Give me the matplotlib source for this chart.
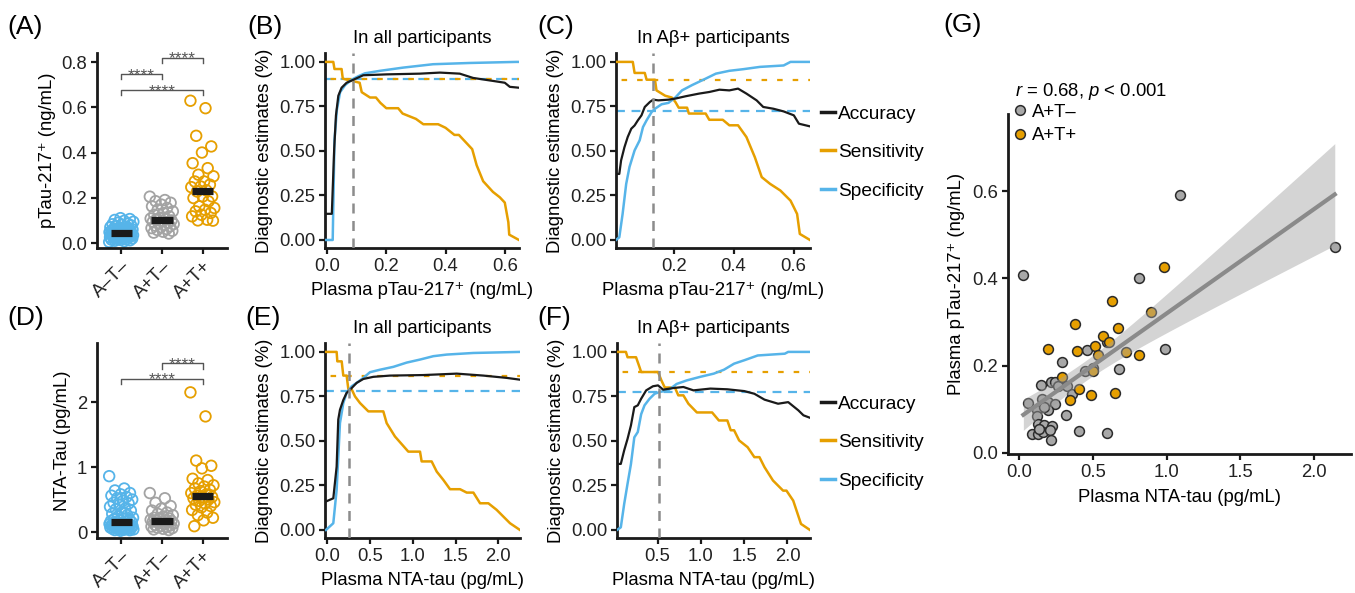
import matplotlib

matplotlib.use("Agg")
import matplotlib.pyplot as plt
import numpy as np
from matplotlib.lines import Line2D

plt.rcParams["font.family"] = ["Liberation Sans", "DejaVu Sans"]
plt.rcParams["mathtext.fontset"] = "custom"
plt.rcParams["mathtext.rm"] = "Liberation Sans"
plt.rcParams["mathtext.it"] = "Liberation Sans:italic"

BLUE = "#56B4E9"
ORANGE = "#E69F00"
GRAY = "#a3a3a3"
INK = "#1a1a1a"
FS = 13.3

GROUPS = ["A\u2013T\u2013", "A+T\u2013", "A+T+"]

# (A) plasma pTau-217+ by group (ng/mL)
ptau_neg = [0.005, 0.008, 0.01, 0.012, 0.014, 0.015, 0.017, 0.018, 0.02, 0.021, 0.022, 0.024, 0.025, 0.026,
            0.027, 0.028, 0.03, 0.031, 0.032, 0.033, 0.034, 0.035, 0.036, 0.037, 0.038, 0.039, 0.04, 0.041,
            0.042, 0.043, 0.044, 0.045, 0.046, 0.047, 0.048, 0.05, 0.051, 0.052, 0.054, 0.055, 0.057, 0.058,
            0.06, 0.062, 0.064, 0.066, 0.068, 0.07, 0.072, 0.075, 0.078, 0.08, 0.083, 0.086, 0.09, 0.094,
            0.098, 0.102, 0.106, 0.11]
ptau_apos_tneg = [0.205, 0.19, 0.185, 0.178, 0.17, 0.162, 0.155, 0.148, 0.14, 0.133, 0.125, 0.118, 0.112,
                  0.108, 0.105, 0.103, 0.10, 0.097, 0.094, 0.09, 0.087, 0.084, 0.08, 0.077, 0.074, 0.07,
                  0.066, 0.062, 0.058, 0.054, 0.05, 0.046, 0.042]
ptau_apos_tpos = [0.629, 0.596, 0.474, 0.427, 0.40, 0.353, 0.331, 0.302, 0.295, 0.272, 0.272, 0.258, 0.25,
                  0.247, 0.233, 0.228, 0.206, 0.206, 0.199, 0.184, 0.162, 0.155, 0.147, 0.14, 0.133, 0.125,
                  0.118, 0.103, 0.10, 0.099]

# (D) NTA-tau by group (pg/mL)
nta_neg = [0.86, 0.67, 0.64, 0.60, 0.58, 0.56, 0.54, 0.52, 0.50, 0.48, 0.45, 0.44, 0.42, 0.39, 0.36, 0.35,
           0.33, 0.30, 0.28, 0.26, 0.24, 0.22, 0.21, 0.20, 0.19, 0.18, 0.17, 0.16, 0.155, 0.15, 0.145, 0.14,
           0.135, 0.13, 0.125, 0.12, 0.115, 0.11, 0.108, 0.105, 0.10, 0.095, 0.09, 0.088, 0.085, 0.08, 0.075,
           0.07, 0.068, 0.065, 0.06, 0.055, 0.05, 0.048, 0.045, 0.04, 0.035, 0.03, 0.028, 0.02]
nta_apos_tneg = [0.60, 0.52, 0.45, 0.40, 0.36, 0.33, 0.30, 0.28, 0.26, 0.24, 0.22, 0.21, 0.20, 0.19, 0.18,
                 0.175, 0.17, 0.165, 0.16, 0.15, 0.14, 0.13, 0.12, 0.11, 0.10, 0.09, 0.085, 0.08, 0.07, 0.06,
                 0.05, 0.04, 0.03]
nta_apos_tpos = [2.15, 1.78, 1.10, 1.02, 0.98, 0.82, 0.80, 0.75, 0.72, 0.70, 0.67, 0.65, 0.63, 0.60, 0.58,
                 0.56, 0.54, 0.53, 0.52, 0.50, 0.48, 0.46, 0.44, 0.42, 0.40, 0.38, 0.34, 0.30, 0.26, 0.22,
                 0.18, 0.09]

# (B) all participants, pTau-217+ cut-offs
b_acc_x = [-0.005, 0.016, 0.024, 0.030, 0.038, 0.049, 0.066, 0.089, 0.122, 0.201, 0.313, 0.381, 0.448, 0.493,
           0.561, 0.60, 0.617, 0.648]
b_acc_y = [0.147, 0.147, 0.51, 0.70, 0.81, 0.855, 0.883, 0.90, 0.925, 0.93, 0.934, 0.94, 0.934, 0.91, 0.893,
           0.883, 0.86, 0.855]
b_sens_x = [-0.005, 0.021, 0.025, 0.049, 0.053, 0.11, 0.117, 0.145, 0.165, 0.18, 0.20, 0.24, 0.255, 0.30, 0.325,
            0.375, 0.40, 0.43, 0.445, 0.49, 0.505, 0.527, 0.56, 0.583, 0.60, 0.612, 0.615, 0.648]
b_sens_y = [1.0, 1.0, 0.96, 0.96, 0.906, 0.883, 0.83, 0.80, 0.80, 0.77, 0.74, 0.74, 0.71, 0.68, 0.65, 0.65,
            0.63, 0.59, 0.59, 0.51, 0.42, 0.33, 0.27, 0.24, 0.21, 0.10, 0.03, 0.0]
b_spec_x = [-0.005, 0.019, 0.025, 0.033, 0.044, 0.061, 0.083, 0.106, 0.128, 0.179, 0.257, 0.358, 0.482, 0.64,
            0.648]
b_spec_y = [0.0, 0.0, 0.56, 0.73, 0.83, 0.87, 0.90, 0.92, 0.936, 0.95, 0.968, 0.987, 0.994, 1.0, 1.0]
b_cut = 0.089
b_sens_at_cut = 0.906
b_spec_at_cut = 0.906

# (C) A-beta positive participants, pTau-217+ cut-offs
c_acc_x = [0.008, 0.019, 0.025, 0.036, 0.047, 0.059, 0.07, 0.081, 0.093, 0.104, 0.121, 0.132, 0.149, 0.183,
           0.206, 0.24, 0.285, 0.319, 0.353, 0.386, 0.415, 0.443, 0.477, 0.499, 0.533, 0.567, 0.601, 0.618,
           0.655]
c_acc_y = [0.371, 0.371, 0.447, 0.52, 0.578, 0.625, 0.643, 0.672, 0.70, 0.747, 0.775, 0.788, 0.784, 0.788,
           0.794, 0.807, 0.822, 0.831, 0.844, 0.84, 0.85, 0.822, 0.784, 0.747, 0.737, 0.722, 0.70, 0.653, 0.638]
c_sens_x = [0.008, 0.064, 0.070, 0.104, 0.11, 0.138, 0.143, 0.172, 0.194, 0.206, 0.217, 0.245, 0.251, 0.307,
            0.319, 0.364, 0.386, 0.415, 0.443, 0.471, 0.494, 0.522, 0.556, 0.59, 0.601, 0.612, 0.621, 0.655]
c_sens_y = [1.0, 1.0, 0.938, 0.938, 0.90, 0.90, 0.84, 0.81, 0.80, 0.775, 0.743, 0.743, 0.71, 0.71, 0.675,
            0.675, 0.644, 0.644, 0.578, 0.465, 0.353, 0.315, 0.278, 0.221, 0.184, 0.146, 0.034, 0.0]
c_spec_x = [0.008, 0.019, 0.03, 0.042, 0.053, 0.07, 0.087, 0.098, 0.11, 0.127, 0.138, 0.16, 0.183, 0.206,
            0.228, 0.262, 0.307, 0.341, 0.386, 0.432, 0.488, 0.567, 0.59, 0.655]
c_spec_y = [0.0, 0.015, 0.146, 0.315, 0.41, 0.503, 0.56, 0.634, 0.672, 0.719, 0.737, 0.762, 0.77, 0.80, 0.84,
            0.87, 0.906, 0.934, 0.95, 0.959, 0.972, 0.98, 1.0, 1.0]
c_cut = 0.132
c_sens_at_cut = 0.90
c_spec_at_cut = 0.724

# (E) all participants, NTA-tau cut-offs
e_acc_x = [-0.016, 0.07, 0.109, 0.128, 0.148, 0.187, 0.226, 0.285, 0.343, 0.421, 0.538, 0.733, 1.123, 1.513,
           1.825, 2.098, 2.253]
e_acc_y = [0.16, 0.178, 0.356, 0.62, 0.675, 0.73, 0.77, 0.797, 0.826, 0.848, 0.86, 0.867, 0.87, 0.878, 0.867,
           0.854, 0.844]
e_sens_x = [-0.016, 0.109, 0.117, 0.168, 0.187, 0.226, 0.246, 0.285, 0.324, 0.382, 0.48, 0.655, 0.694, 0.791,
            0.947, 1.084, 1.103, 1.22, 1.279, 1.357, 1.435, 1.552, 1.63, 1.708, 1.786, 1.883, 1.98, 2.136, 2.253]
e_sens_y = [1.0, 1.0, 0.947, 0.947, 0.867, 0.867, 0.79, 0.79, 0.75, 0.713, 0.666, 0.666, 0.60, 0.525, 0.44,
            0.44, 0.385, 0.385, 0.328, 0.281, 0.229, 0.229, 0.21, 0.21, 0.15, 0.15, 0.113, 0.038, 0.0]
e_spec_x = [-0.016, 0.07, 0.109, 0.148, 0.187, 0.226, 0.285, 0.343, 0.421, 0.499, 0.616, 0.772, 0.928, 1.084,
            1.24, 1.396, 1.708, 2.253]
e_spec_y = [0.0, 0.038, 0.225, 0.60, 0.713, 0.77, 0.807, 0.826, 0.854, 0.886, 0.90, 0.916, 0.94, 0.957, 0.976,
            0.985, 0.994, 1.0]
e_cut = 0.253
e_sens_at_cut = 0.867
e_spec_at_cut = 0.782

# (F) A-beta positive participants, NTA-tau cut-offs
f_acc_x = [0.03, 0.074, 0.113, 0.152, 0.191, 0.23, 0.27, 0.309, 0.367, 0.445, 0.504, 0.563, 0.68, 0.797,
           0.914, 1.109, 1.305, 1.5, 1.617, 1.734, 1.891, 2.008, 2.125, 2.184, 2.26]
f_acc_y = [0.371, 0.371, 0.447, 0.512, 0.587, 0.69, 0.70, 0.737, 0.784, 0.807, 0.812, 0.788, 0.797, 0.803,
           0.784, 0.794, 0.79, 0.78, 0.765, 0.732, 0.709, 0.718, 0.672, 0.644, 0.63]
f_sens_x = [0.03, 0.133, 0.152, 0.25, 0.289, 0.309, 0.504, 0.543, 0.582, 0.699, 0.738, 0.797, 0.855, 0.953,
            1.129, 1.207, 1.305, 1.344, 1.383, 1.441, 1.539, 1.617, 1.676, 1.734, 1.832, 1.949, 1.988, 2.066,
            2.156, 2.26]
f_sens_y = [1.0, 1.0, 0.97, 0.97, 0.916, 0.887, 0.887, 0.84, 0.80, 0.80, 0.756, 0.756, 0.709, 0.66, 0.66,
            0.615, 0.615, 0.56, 0.56, 0.503, 0.465, 0.409, 0.409, 0.353, 0.278, 0.221, 0.221, 0.165, 0.034, 0.0]
f_spec_x = [0.03, 0.074, 0.113, 0.152, 0.191, 0.23, 0.27, 0.309, 0.348, 0.406, 0.465, 0.523, 0.621, 0.719,
            0.836, 0.992, 1.148, 1.266, 1.383, 1.5, 1.656, 1.969, 2.008, 2.26]
f_spec_y = [0.0, 0.015, 0.146, 0.26, 0.37, 0.52, 0.55, 0.65, 0.70, 0.737, 0.765, 0.775, 0.784, 0.82, 0.84,
            0.86, 0.878, 0.90, 0.934, 0.953, 0.98, 0.99, 1.0, 1.0]
f_cut = 0.51
f_sens_at_cut = 0.887
f_spec_at_cut = 0.775

# (G) NTA-tau vs pTau-217+ in A+ participants
g_tneg_x = [0.029, 0.81, 0.99, 1.09, 2.14, 0.459, 0.294, 0.679, 0.447, 0.504, 0.147, 0.217, 0.244, 0.267,
            0.324, 0.357, 0.063, 0.154, 0.199, 0.244, 0.12, 0.199, 0.17, 0.319, 0.12, 0.131, 0.172, 0.222,
            0.086, 0.131, 0.165, 0.21, 0.138, 0.217, 0.407, 0.595, 0.594]
g_tneg_y = [0.408, 0.40, 0.239, 0.592, 0.472, 0.235, 0.207, 0.192, 0.187, 0.195, 0.156, 0.162, 0.163, 0.154,
            0.154, 0.135, 0.114, 0.123, 0.116, 0.111, 0.097, 0.099, 0.104, 0.087, 0.085, 0.066, 0.063, 0.061,
            0.043, 0.043, 0.047, 0.053, 0.055, 0.03, 0.05, 0.045, 0.253]
g_tpos_x = [0.984, 0.629, 0.896, 0.38, 0.67, 0.572, 0.611, 0.516, 0.195, 0.391, 0.724, 0.81, 0.538, 0.5,
            0.294, 0.403, 0.652, 0.489, 0.346]
g_tpos_y = [0.425, 0.348, 0.323, 0.296, 0.287, 0.268, 0.255, 0.245, 0.238, 0.234, 0.23, 0.223, 0.225, 0.188,
            0.173, 0.145, 0.136, 0.133, 0.12]
g_r_text = r"$r$ = 0.68, $p$ < 0.001"

W, H = 1355, 593


def _box(left, top, right, bottom):
    return [left / W, 1 - bottom / H, (right - left) / W, (bottom - top) / H]


def _style(ax):
    for side in ("top", "right"):
        ax.spines[side].set_visible(False)
    for side in ("left", "bottom"):
        ax.spines[side].set_linewidth(2.0)
        ax.spines[side].set_color(INK)
    ax.tick_params(width=1.6, length=4, color=INK, labelcolor="#222222", labelsize=FS, pad=3)


def _bracket(ax, x0, x1, y, drop):
    ax.plot([x0, x0, x1, x1], [y - drop, y, y, y - drop], color="#555555", lw=1.0, clip_on=False)
    # asterisks sit high in the em box, so pull the baseline below the bracket line
    ax.annotate("****", xy=((x0 + x1) / 2, y), xytext=(0, -4.2), textcoords="offset points",
                ha="center", va="baseline", fontsize=12.5, color="#555555")


def _strip(ax, groups, ylabel, ylim, yticks, yticklabels):
    colors = [BLUE, GRAY, ORANGE]
    for pos, (values, color) in enumerate(zip(groups, colors)):
        values = np.asarray(values)
        offsets = ((np.arange(len(values)) * 0.618034) % 1.0 - 0.5) * 0.6
        ax.scatter(pos + offsets, values, s=58, facecolors="none", edgecolors=color, linewidths=1.3, zorder=2)
        ax.plot([pos - 0.26, pos + 0.26], [np.median(values)] * 2, color=INK, lw=5.2,
                solid_capstyle="butt", zorder=3)
    ax.set_xlim(-0.6, 2.6)
    ax.set_ylim(*ylim)
    ax.set_xticks(range(3))
    ax.set_xticklabels(GROUPS, rotation=45, ha="right", rotation_mode="anchor")
    ax.set_yticks(yticks)
    ax.set_yticklabels(yticklabels)
    ax.set_ylabel(ylabel, fontsize=FS, labelpad=4)
    _style(ax)


def _cutoffs(ax, acc, sens, spec, cut, sens_at_cut, spec_at_cut, xlim, xticks, xlabel, title, legend):
    ax.plot(*sens, color=ORANGE, lw=1.8, zorder=3)
    ax.plot(*spec, color=BLUE, lw=1.8, zorder=4)
    ax.plot(*acc, color=INK, lw=1.6, zorder=5)
    ax.axhline(spec_at_cut, color=BLUE, lw=1.6, linestyle=(0, (4, 3)), zorder=2)
    ax.axhline(sens_at_cut, color=ORANGE, lw=1.6, linestyle=(4.5, (2.5, 4.5)), zorder=2.5)
    ax.axvline(cut, color="#8c8c8c", lw=1.8, linestyle=(0, (4, 3)), zorder=6)
    ax.set_xlim(*xlim)
    ax.set_ylim(-0.045, 1.05)
    ax.set_xticks(xticks)
    ax.set_yticks([0, 0.25, 0.5, 0.75, 1.0])
    ax.set_yticklabels(["0.00", "0.25", "0.50", "0.75", "1.00"])
    ax.set_xlabel(xlabel, fontsize=FS, labelpad=5)
    ax.set_ylabel("Diagnostic estimates (%)", fontsize=FS, labelpad=4)
    ax.set_title(title, fontsize=FS, pad=7)
    _style(ax)
    if legend:
        handles = [Line2D([], [], color=c, lw=2.5) for c in (INK, ORANGE, BLUE)]
        ax.legend(handles, ["Accuracy", "Sensitivity", "Specificity"], loc="center left",
                  bbox_to_anchor=(1.055, 0.49), frameon=False, fontsize=13.8, handlelength=0.75,
                  handletextpad=0.15, labelspacing=1.1, borderpad=0, borderaxespad=0)


fig = plt.figure(figsize=(W / 100, H / 100), dpi=100)

ax_a = fig.add_axes(_box(97, 53, 227, 248))
_strip(ax_a, [ptau_neg, ptau_apos_tneg, ptau_apos_tpos], "pTau-217\u207a (ng/mL)",
       (-0.022, 0.84), [0, 0.2, 0.4, 0.6, 0.8], ["0.0", "0.2", "0.4", "0.6", "0.8"])
_bracket(ax_a, 1, 2, 0.82, 0.022)
_bracket(ax_a, 0, 1, 0.748, 0.022)
_bracket(ax_a, 0, 2, 0.677, 0.022)

ax_d = fig.add_axes(_box(97, 343, 227, 538))
_strip(ax_d, [nta_neg, nta_apos_tneg, nta_apos_tpos], "NTA-Tau (pg/mL)",
       (-0.092, 2.91), [0, 1, 2], ["0", "1", "2"])
_bracket(ax_d, 1, 2, 2.6, 0.085)
_bracket(ax_d, 0, 2, 2.36, 0.08)

ptau_label = "Plasma pTau-217\u207a (ng/mL)"
nta_label = "Plasma NTA-tau (pg/mL)"

ax_b = fig.add_axes(_box(325, 53, 519, 248))
_cutoffs(ax_b, (b_acc_x, b_acc_y), (b_sens_x, b_sens_y), (b_spec_x, b_spec_y), b_cut, b_sens_at_cut,
         b_spec_at_cut, (-0.007, 0.648), [0.0, 0.2, 0.4, 0.6], ptau_label, "In all participants", False)

ax_c = fig.add_axes(_box(616, 53, 810, 248))
_cutoffs(ax_c, (c_acc_x, c_acc_y), (c_sens_x, c_sens_y), (c_spec_x, c_spec_y), c_cut, c_sens_at_cut,
         c_spec_at_cut, (0.008, 0.655), [0.2, 0.4, 0.6], ptau_label, "In A\u03b2+ participants", True)

ax_e = fig.add_axes(_box(325, 343, 520, 538))
_cutoffs(ax_e, (e_acc_x, e_acc_y), (e_sens_x, e_sens_y), (e_spec_x, e_spec_y), e_cut, e_sens_at_cut,
         e_spec_at_cut, (-0.027, 2.253), [0.0, 0.5, 1.0, 1.5, 2.0], nta_label, "In all participants", False)

ax_f = fig.add_axes(_box(617, 343, 810, 538))
_cutoffs(ax_f, (f_acc_x, f_acc_y), (f_sens_x, f_sens_y), (f_spec_x, f_spec_y), f_cut, f_sens_at_cut,
         f_spec_at_cut, (0.03, 2.26), [0.5, 1.0, 1.5, 2.0], nta_label, "In A\u03b2+ participants", True)

# (G) scatter with linear fit and 95% band
ax_g = fig.add_axes(_box(1008, 114, 1351, 454))
ax_g.scatter(g_tneg_x, g_tneg_y, s=50, color="#a8a8a8", edgecolors="#2b2b2b", linewidths=1.1, zorder=2)
ax_g.scatter(g_tpos_x, g_tpos_y, s=50, color=ORANGE, edgecolors="#2b2b2b", linewidths=1.1, zorder=2)
gx = np.array(g_tneg_x + g_tpos_x)
gy = np.array(g_tneg_y + g_tpos_y)
slope, intercept = np.polyfit(gx, gy, 1)
resid = gy - (slope * gx + intercept)
s_err = np.sqrt(np.sum(resid ** 2) / (len(gx) - 2))
grid = np.linspace(gx.min(), gx.max(), 100)
fit = slope * grid + intercept
half = 2.005 * s_err * np.sqrt(1 / len(gx) + (grid - gx.mean()) ** 2 / np.sum((gx - gx.mean()) ** 2))
ax_g.fill_between(grid, fit - half, fit + half, color="#a0a0a0", alpha=0.45, lw=0, zorder=3)
ax_g.plot(grid, fit, color="#8a8a8a", lw=3, zorder=4)
ax_g.set_xlim(-0.075, 2.25)
ax_g.set_ylim(-0.003, 0.777)
ax_g.set_xticks([0.0, 0.5, 1.0, 1.5, 2.0])
ax_g.set_yticks([0.0, 0.2, 0.4, 0.6])
ax_g.set_xlabel(nta_label, fontsize=FS, labelpad=6)
ax_g.set_ylabel(ptau_label, fontsize=FS, labelpad=5)
_style(ax_g)
ax_g.text(0.02, 1.065, g_r_text, transform=ax_g.transAxes, fontsize=FS, va="center", ha="left")
g_handles = [Line2D([], [], ls="", marker="o", ms=7, mfc=c, mec="#2b2b2b", mew=1.1) for c in ("#a8a8a8", ORANGE)]
ax_g.legend(g_handles, GROUPS[1:], loc="upper left", bbox_to_anchor=(0.012, 1.03), frameon=False,
            fontsize=FS, handlelength=0.8, handletextpad=0.25, labelspacing=0.35, borderpad=0,
            borderaxespad=0)

for label, x, y in [("(A)", 7, 27), ("(B)", 247, 27), ("(C)", 537, 27), ("(D)", 7, 318),
                    ("(E)", 245, 318), ("(F)", 537, 318), ("(G)", 943, 25)]:
    fig.text(x / W, 1 - y / H, label, fontsize=19, ha="left", va="center")

fig.savefig("out.png", dpi=100)
print(f"fit slope={slope:.3f} intercept={intercept:.3f} r={np.corrcoef(gx, gy)[0, 1]:.2f}")
